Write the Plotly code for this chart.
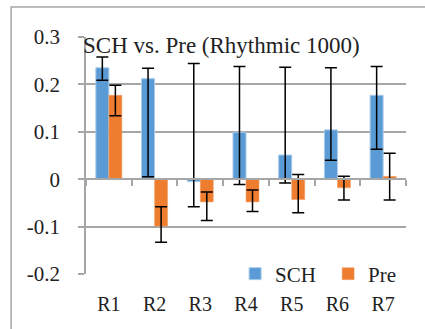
import plotly.graph_objects as go

categories = ["R1", "R2", "R3", "R4", "R5", "R6", "R7"]
sch_values = [0.235, 0.212, -0.005, 0.099, 0.051, 0.104, 0.177]
sch_err_plus = [0.023, 0.022, 0.249, 0.139, 0.185, 0.131, 0.061]
sch_err_minus = [0.026, 0.207, 0.053, 0.110, 0.059, 0.064, 0.114]
pre_values = [0.177, -0.099, -0.048, -0.048, -0.043, -0.018, 0.006]
pre_err_plus = [0.021, 0.041, 0.021, 0.025, 0.053, 0.024, 0.049]
pre_err_minus = [0.043, 0.034, 0.039, 0.020, 0.028, 0.026, 0.050]
y_ticks = [-0.2, -0.1, 0, 0.1, 0.2, 0.3]
y_ticktext = ["-0.2", "-0.1", "0", "0.1", "0.2", "0.3"]

FONT = "'Liberation Serif', 'Times New Roman', 'DejaVu Serif', serif"
GRID = "#A6A6A6"
TXT = "#222222"

fig = go.Figure()
fig.add_trace(go.Bar(
    name="SCH", x=categories, y=sch_values,
    marker=dict(color="#5B9BD5", line=dict(color="#A9CBEA", width=1)),
    error_y=dict(type="data", symmetric=False, array=sch_err_plus, arrayminus=sch_err_minus,
                 color="black", thickness=1.5, width=6),
))
fig.add_trace(go.Bar(
    name="Pre", x=categories, y=pre_values,
    marker=dict(color="#EF7D2F", line=dict(color="#F2A06A", width=0.5)),
    error_y=dict(type="data", symmetric=False, array=pre_err_plus, arrayminus=pre_err_minus,
                 color="black", thickness=1.5, width=6),
))
# helper trace for the x-axis line drawn at y = 0
fig.add_trace(go.Scatter(x=categories, y=[0] * len(categories), xaxis="x2", mode="lines",
                         line=dict(width=0, color="rgba(0,0,0,0)"), showlegend=False,
                         hoverinfo="skip"))

fig.update_layout(
    width=425, height=329,
    margin=dict(l=86, r=19, t=37, b=55, autoexpand=False),
    paper_bgcolor="white", plot_bgcolor="white",
    barmode="group", bargap=0.43, bargroupgap=0,
    font=dict(family=FONT, color=TXT),
    title=dict(text="SCH vs. Pre (Rhythmic 1000)", font=dict(family=FONT, size=23, color=TXT),
               x=83 / 425, xanchor="left", xref="container",
               y=1 - 45 / 329, yanchor="middle", yref="container"),
    xaxis=dict(type="category", showline=False, showgrid=False, ticks="",
               tickfont=dict(size=20, family=FONT, color=TXT), ticklabelstandoff=16),
    xaxis2=dict(type="category", overlaying="x", anchor="free", position=0.4,
                showline=True, linecolor=GRID, linewidth=1.5, showgrid=False,
                ticks="outside", tickson="boundaries", ticklen=6, tickcolor=GRID, tickwidth=1.5,
                showticklabels=False, matches="x"),
    yaxis=dict(range=[-0.2, 0.3], tickvals=y_ticks, ticktext=y_ticktext,
               showgrid=True, gridcolor=GRID, gridwidth=1.5, zeroline=False,
               showline=True, linecolor=GRID, linewidth=1.5,
               ticks="outside", ticklen=6, tickcolor=GRID, tickwidth=1.5,
               tickfont=dict(size=21, family=FONT, color=TXT), ticklabelstandoff=14),
    legend=dict(orientation="h", x=0.466, xanchor="left", y=0, yanchor="middle",
                bgcolor="rgba(0,0,0,0)", font=dict(size=21, family=FONT, color=TXT),
                entrywidth=48, entrywidthmode="pixels"),
    shapes=[dict(type="rect", xref="paper", yref="paper", x0=-0.234, x1=1.5, y0=-1.0,
                 y1=1.127, line=dict(color="#A6A6A6", width=1.5), layer="above")],
)

fig.write_html("out.html")
